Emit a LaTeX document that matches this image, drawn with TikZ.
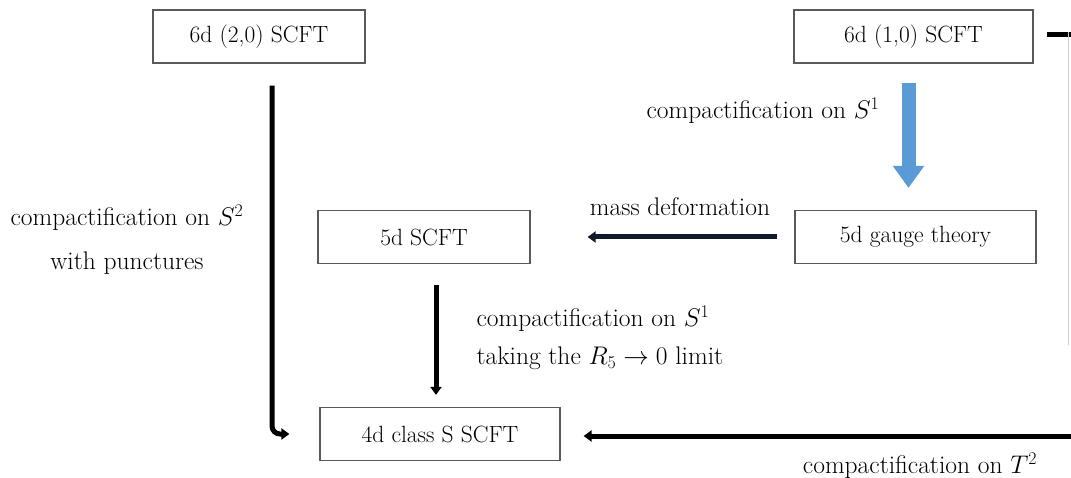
\documentclass[tikz,border=0pt]{standalone}
\usepackage{fix-cm}
\usepackage{fontspec}
\usetikzlibrary{arrows.meta}
\colorlet{boxline}{black!65}
\definecolor{flowblue}{RGB}{91,155,213}
\definecolor{massnavy}{RGB}{16,26,44}
\tikzset{
  theory/.style={draw=boxline, line width=1.2pt, minimum height=53pt, inner sep=0pt,
    font=\fontsize{23.5}{28}\selectfont},
  lbl/.style={font=\fontsize{25.5}{38}\selectfont},
  flow/.style={line width=5pt, -{Triangle[width=11pt,length=8pt]}},
}

\begin{document}
\begin{tikzpicture}[x=1pt,y=-1pt]
\useasboundingbox (0,0) rectangle (1071,478);
% theories
\node[theory, minimum width=212pt] (sixtwo) at (259,36.5) {6d (2,0) SCFT};
\node[theory, minimum width=239pt] (sixone) at (913.5,36.5) {6d (1,0) SCFT};
\node[theory, minimum width=212pt] (fivescft) at (424,237) {5d SCFT};
\node[theory, minimum width=241pt] (fivegauge) at (915.5,237) {5d gauge theory};
\node[theory, minimum width=240pt] (fourd) at (440,434) {4d class S SCFT};
% labels
\node[lbl] (lblsone) at (763,111) {compactification on $S^1$};
\node[lbl] (lblmass) at (680,207) {mass deformation};
\node[lbl, align=center, font=\fontsize{25.5}{44}\selectfont] (lblstwo) at (127,240) {compactification on $S^2$\\with punctures};
\node[lbl, align=left, anchor=west] (lblrfive) at (473,338) {compactification on $S^1$\\taking the $R_5\to0$ limit};
\node[lbl] (lblttwo) at (920,466) {compactification on $T^2$};
% arrows
\draw[flow, rounded corners=8pt] ([xshift=13pt,yshift=-22pt]sixtwo.south) |- ([xshift=-30pt]fourd.west);
\draw[line width=14pt, flowblue, -{Triangle[width=30pt,length=22pt]}, shorten <=19pt, shorten >=22pt]
  ([xshift=-5pt]sixone.south) -- ([xshift=-5pt]sixone.south |- fivegauge.north);
\draw[flow, massnavy, shorten <=17pt, shorten >=57pt] (fivegauge.west) -- (fivescft.east);
\draw[flow, shorten <=21pt, shorten >=12pt] ([xshift=12pt]fivescft.south) -- ([xshift=12pt]fivescft.south |- fourd.north);
\coordinate (redge) at (1085,240);
\draw[flow] ([xshift=13pt,yshift=1.5pt]sixone.east) -| (redge) |- ([xshift=23pt,yshift=-2pt]fourd.east);
\coordinate (faintt) at (1068,32);
\coordinate (faintb) at (1068,345);
\draw[black!20, line width=0.8pt] (faintt) -- (faintb);
\end{tikzpicture}
\end{document}
